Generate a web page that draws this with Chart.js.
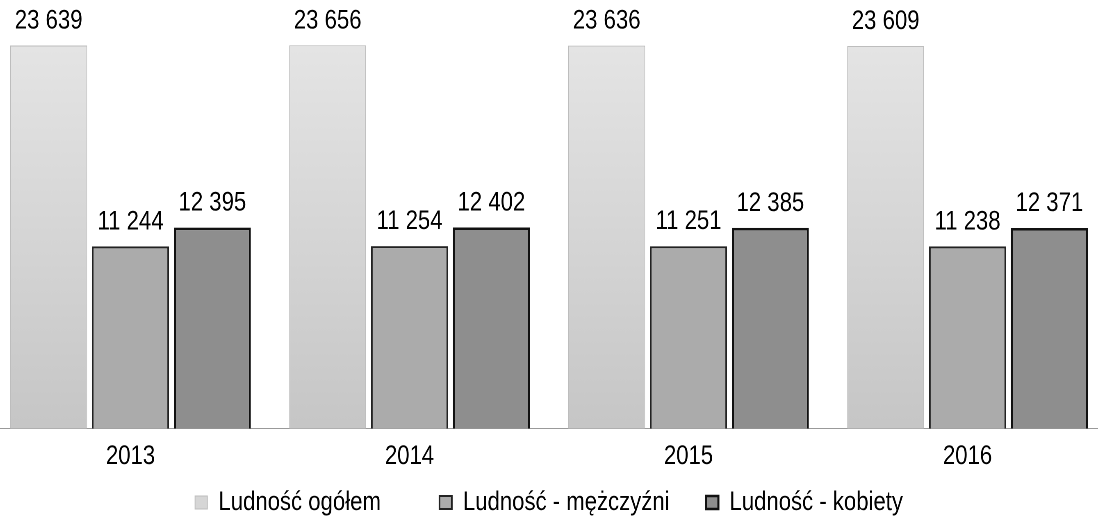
<!DOCTYPE html>
<html>
<head>
<meta charset="utf-8">
<script src="https://cdn.jsdelivr.net/npm/chart.js@4"></script>
<style>
  html, body { margin: 0; padding: 0; background: #fff; overflow: hidden; }
  /* squeeze the whole chart sideways so Liberation Sans reads like a narrow face */
  #wrap { position: absolute; left: -9px; top: 0; transform: scaleX(0.82); transform-origin: 0 0; }
</style>
</head>
<body>
<div id="wrap"><canvas id="ludnosc" width="1415" height="529"></canvas></div>
<script>
var years = ["2013", "2014", "2015", "2016"];
var ogolem = [23639, 23656, 23636, 23609];
var mezczyzni = [11244, 11254, 11251, 11238];
var kobiety = [12395, 12402, 12385, 12371];
var seriesNames = ["Ludność ogółem", "Ludność - mężczyźni", "Ludność - kobiety"];

var FONT = "'Liberation Sans', Arial, sans-serif";
var legendGaps = ["\u2003\u2003\u2002", "\u2003\u2002", ""];

function spaced(n) {
    return String(n).replace(/\B(?=(\d{3})+(?!\d))/g, " ");
}

// scanned look: the tall bars get denser towards the bottom
function ogolemFill(context) {
    var area = context.chart.chartArea;
    if (!area) return "#d6d6d6";
    var g = context.chart.ctx.createLinearGradient(0, area.top, 0, area.bottom);
    g.addColorStop(0, "#e8e8e8");
    g.addColorStop(1, "#c6c6c6");
    return g;
}

// value labels above the bars
var valueLabels = {
    id: "valueLabels",
    afterDatasetsDraw: function(chart) {
        var ctx = chart.ctx;
        ctx.save();
        ctx.font = "27px " + FONT;
        ctx.fillStyle = "#000";
        ctx.textAlign = "center";
        ctx.textBaseline = "alphabetic";
        chart.data.datasets.forEach(function(ds, i) {
            chart.getDatasetMeta(i).data.forEach(function(bar, j) {
                ctx.fillText(spaced(ds.data[j]), bar.x, bar.y - 17);
            });
        });
        ctx.restore();
    }
};

var ctx = document.getElementById("ludnosc").getContext("2d");
var myChart = new Chart(ctx, {
    type: "bar",
    data: {
        labels: years,
        datasets: [{
            label: seriesNames[0],
            data: ogolem,
            backgroundColor: ogolemFill,
            borderColor: "#bdbdbd",
            borderWidth: 1
        }, {
            label: seriesNames[1],
            data: mezczyzni,
            backgroundColor: "#ababab",
            borderColor: "#222",
            borderWidth: 2
        }, {
            label: seriesNames[2],
            data: kobiety,
            backgroundColor: "#8e8e8e",
            borderColor: "#111",
            borderWidth: 2.5
        }]
    },
    options: {
        responsive: false,
        animation: false,
        devicePixelRatio: 2,
        categoryPercentage: 0.88,
        barPercentage: 0.94,
        layout: { padding: { top: 0, bottom: 3, left: 0, right: 54 } },
        scales: {
            x: {
                grid: { display: false, drawTicks: false },
                border: { display: true, color: "#999", width: 1, dash: [2, 6] },
                ticks: { color: "#000", padding: 19.5, font: { size: 27, family: FONT, lineHeight: 0.65 } }
            },
            y: {
                display: false,
                min: 0,
                max: 26450
            }
        },
        plugins: {
            legend: {
                position: "bottom",
                labels: {
                    color: "#000",
                    boxWidth: 15,
                    boxHeight: 13,
                    padding: 4,
                    font: { size: 27, family: FONT },
                    generateLabels: function(chart) {
                        var items = Chart.defaults.plugins.legend.labels.generateLabels(chart);
                        items.forEach(function(it, i) {
                            it.text = it.text + legendGaps[i];
                            if (i === 0) it.fillStyle = "#d6d6d6";
                        });
                        return items;
                    }
                }
            },
            tooltip: { enabled: false }
        }
    },
    plugins: [valueLabels]
});
</script>
</body>
</html>
